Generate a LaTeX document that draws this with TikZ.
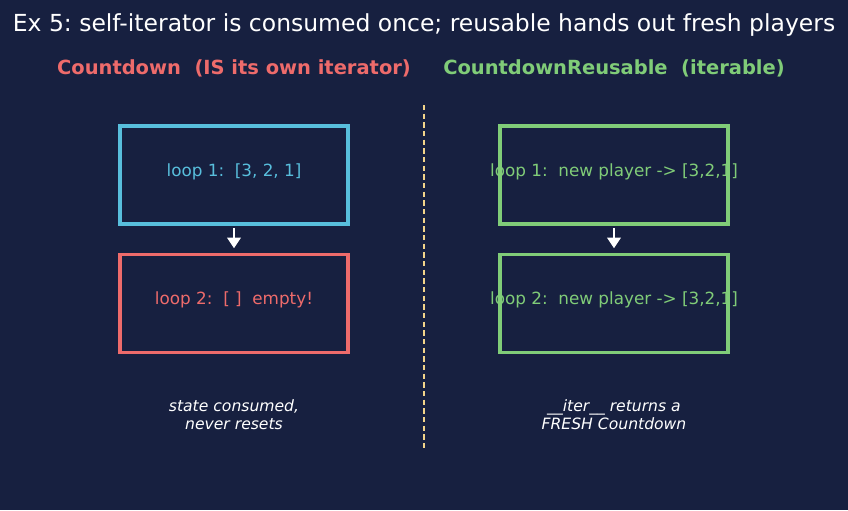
\documentclass[tikz,border=0pt]{standalone}
\usepackage{fontspec}
\setmainfont{DejaVu Sans}
\usetikzlibrary{positioning, arrows.meta}
\definecolor{nightbg}{HTML}{172040}
\definecolor{selfcyan}{HTML}{58BEDC}
\definecolor{usedred}{HTML}{EE6B6B}
\definecolor{freshgreen}{HTML}{80CC78}
\definecolor{dividery}{HTML}{F2D48A}
\frenchspacing

\begin{document}
\begin{tikzpicture}[
    x=0.75pt, y=-0.75pt,
    loopbox/.style={rectangle, draw=#1, line width=2.3pt, minimum width=171pt, minimum height=73.5pt, inner sep=0pt},
    looptext/.style={font=\fontsize{12.6}{15}\selectfont, text=#1},
    header/.style={font=\fontsize{14.6}{17}\selectfont\bfseries, text=#1},
    note/.style={font=\fontsize{11.7}{13.5}\selectfont\itshape, text=white, align=center},
    flow/.style={-{Triangle[length=8pt, width=10pt]}, line width=2pt, white, shorten <=2pt, shorten >=3.5pt}
]

% ==================== CANVAS ====================
\path[use as bounding box, fill=nightbg] (0,0) rectangle (848,510);

% ==================== TITLE ====================
\node[font=\fontsize{17.6}{21}\selectfont, text=white] (title) at (424,25) {Ex 5: self-iterator is consumed once; reusable hands out fresh players};
\node[header=usedred] (lefthead) at (234,68) {Countdown\ \ (IS its own iterator)};
\node[header=freshgreen] (righthead) at (614,68) {CountdownReusable\ \ (iterable)};

% ==================== LEFT SIDE: SELF-ITERATOR ====================
\node[loopbox=selfcyan] (selfone) at (234,175) {};
\node[looptext=selfcyan] (selfonetext) at (234,171.5) {loop 1:\ \ [3, 2, 1]};
\node[loopbox=usedred] (selftwo) at (234,303.5) {};
\node[looptext=usedred] (selftwotext) at (234,299.5) {loop 2:\ \ [\ ]\ \ empty!};
\node[note] (leftnote) at (234,415) {state consumed,\\never resets};

% ==================== RIGHT SIDE: REUSABLE ====================
\node[loopbox=freshgreen] (freshone) at (614,175) {};
\node[looptext=freshgreen] (freshonetext) at (614,171.5) {loop 1:\ \ new player -> [3,2,1]};
\node[loopbox=freshgreen] (freshtwo) at (614,303.5) {};
\node[looptext=freshgreen] (freshtwotext) at (614,299.5) {loop 2:\ \ new player -> [3,2,1]};
\node[note] (rightnote) at (614,415) {\_\_iter\_\_ returns a\\FRESH Countdown};

% ==================== ARROWS & DIVIDER ====================
\draw[flow] (selfone.south) -- (selftwo.north);
\draw[flow] (freshone.south) -- (freshtwo.north);

\coordinate (divtop) at (424,105);
\coordinate (divbottom) at (424,450);
\draw[dividery, line width=1.5pt, dash pattern=on 4pt off 2.5pt] (divtop) -- (divbottom);

\end{tikzpicture}
\end{document}
